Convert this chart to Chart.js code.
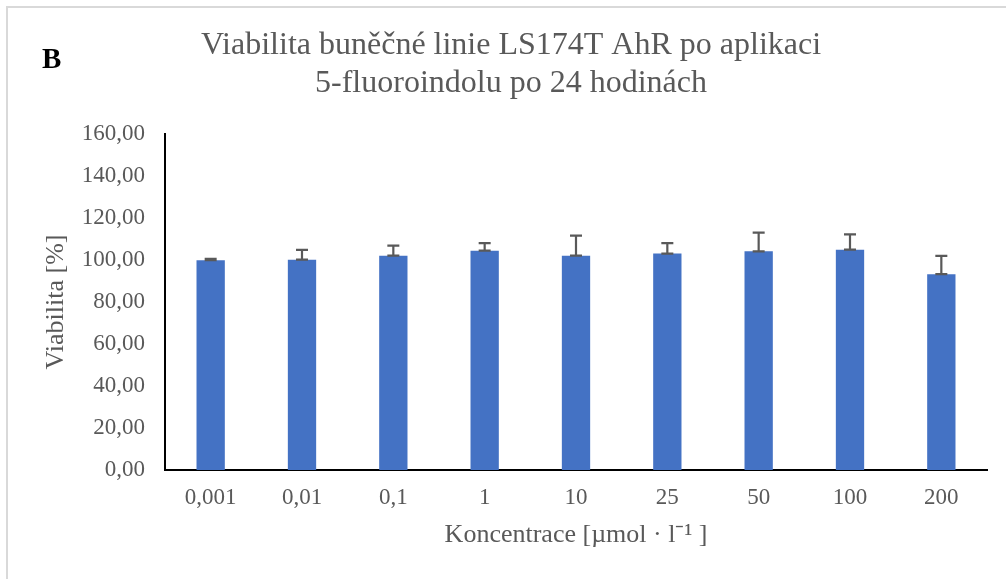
<!DOCTYPE html>
<html>
<head>
<meta charset="utf-8">
<script src="https://cdn.jsdelivr.net/npm/chart.js@4"></script>
<style>
  html, body { margin: 0; padding: 0; background: #fff; }
  #wrap { position: relative; width: 1006px; height: 579px; overflow: hidden; }
  #frame { position: absolute; left: 6px; top: 6px; width: 1010px; height: 600px;
           border-left: 2px solid #d9d9d9; border-top: 2px solid #d9d9d9; pointer-events: none; }
  canvas { position: absolute; left: 0; top: 0; }
</style>
</head>
<body>
<div id="wrap">
  <div id="frame"></div>
  <canvas id="c" width="1006" height="579"></canvas>
</div>
<script>
const categories = ['0,001', '0,01', '0,1', '1', '10', '25', '50', '100', '200'];
const viability = [99.9, 100.1, 102.0, 104.4, 102.0, 103.0, 104.1, 104.9, 93.2];
const errorPlus = [0.6, 4.7, 4.8, 3.6, 9.6, 5.0, 8.9, 7.3, 8.7];
const titleLines = ['Viabilita buněčné linie LS174T AhR po aplikaci', '5-fluoroindolu po 24 hodinách'];
const panelLabel = 'B';
const xTitle = 'Koncentrace [µmol · l⁻¹ ]';
const yTitle = 'Viabilita [%]';

const SERIF = '"Liberation Serif", "Times New Roman", serif';
const GREY = '#595959';

const errorBarPlugin = {
  id: 'errorBars',
  afterDatasetsDraw(chart) {
    const ctx = chart.ctx;
    const meta = chart.getDatasetMeta(0);
    const y = chart.scales.y;
    ctx.save();
    ctx.strokeStyle = GREY;
    ctx.lineWidth = 2.2;
    meta.data.forEach((bar, i) => {
      const v = viability[i], e = errorPlus[i];
      const y0 = y.getPixelForValue(v);
      const y1 = y.getPixelForValue(v + e);
      const x = bar.x;
      const hw = 6;
      ctx.beginPath();
      ctx.moveTo(x, y0); ctx.lineTo(x, y1);
      ctx.moveTo(x - hw, y1); ctx.lineTo(x + hw, y1);
      ctx.moveTo(x - hw, y0); ctx.lineTo(x + hw, y0);
      ctx.stroke();
    });
    ctx.restore();
  }
};

const panelLabelPlugin = {
  id: 'panelLabel',
  afterDraw(chart) {
    const ctx = chart.ctx;
    ctx.save();
    ctx.font = 'bold 29px ' + SERIF;
    ctx.fillStyle = '#000';
    ctx.textBaseline = 'alphabetic';
    ctx.textAlign = 'left';
    ctx.fillText(panelLabel, 42, 68);
    ctx.restore();
  }
};

new Chart(document.getElementById('c'), {
  type: 'bar',
  data: {
    labels: categories,
    datasets: [{
      data: viability,
      backgroundColor: '#4472C4',
      borderWidth: 0,
      barPercentage: 0.31,
      categoryPercentage: 1.0
    }]
  },
  options: {
    responsive: false,
    animation: false,
    devicePixelRatio: 1,
    layout: { padding: { left: 35, right: 19, top: 0, bottom: 0 } },
    plugins: {
      legend: { display: false },
      tooltip: { enabled: false },
      title: {
        display: true,
        text: titleLines,
        color: GREY,
        font: { family: SERIF, size: 32, weight: 'normal', lineHeight: 1.17 },
        padding: { top: 27, bottom: 32 }
      }
    },
    scales: {
      x: {
        grid: { display: false, drawTicks: false },
        border: { display: true, color: '#000', width: 2 },
        ticks: { color: GREY, font: { family: SERIF, size: 23 }, padding: 14, maxRotation: 0 },
        title: {
          display: true, text: xTitle, color: GREY,
          font: { family: SERIF, size: 26 },
          padding: { top: 0, bottom: 28 }
        },
        afterFit(s) { s.height = 109; }
      },
      y: {
        min: 0, max: 160,
        grid: { display: false, drawTicks: false },
        border: { display: true, color: '#000', width: 2 },
        ticks: {
          stepSize: 20, color: GREY, padding: 20,
          font: { family: SERIF, size: 23 },
          callback: (v) => v.toFixed(2).replace('.', ',')
        },
        title: {
          display: true, text: yTitle, color: GREY,
          font: { family: SERIF, size: 26 },
          padding: { top: 6, bottom: 0 }
        },
        afterFit(s) { s.width = 130; }
      }
    }
  },
  plugins: [errorBarPlugin, panelLabelPlugin]
});
</script>
</body>
</html>
